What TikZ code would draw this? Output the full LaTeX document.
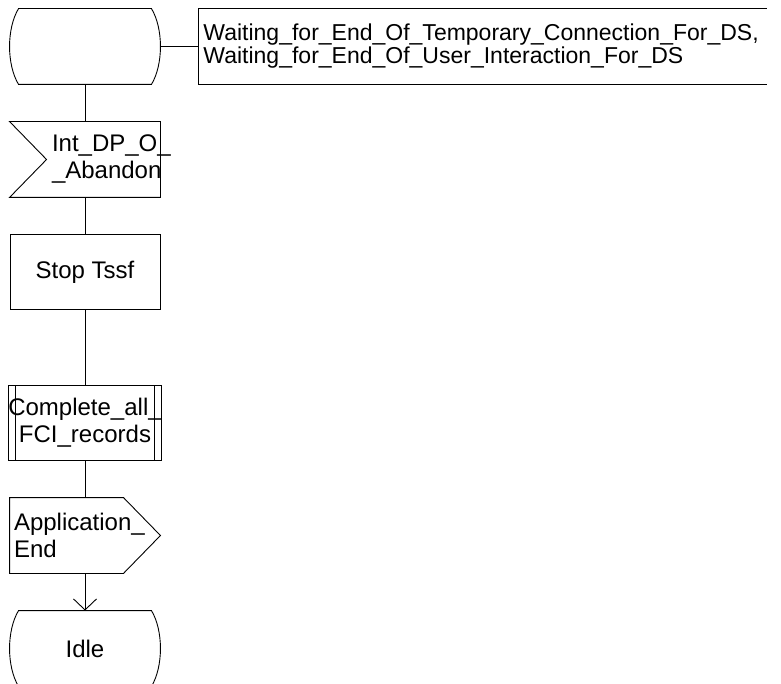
\documentclass[tikz,border=0pt]{standalone}
\usepackage{fontspec}
\setmainfont{Liberation Sans}
\usetikzlibrary{arrows.meta,calc,positioning}
\tikzset{
  every picture/.style={line width=0.9pt, line join=miter,
    >={Straight Barb[length=11pt,width=23pt]}},
  % Symbole
  blk/.style={minimum width=150pt, minimum height=75pt, inner sep=0pt,
    font=\fontsize{24}{27}\selectfont, align=center},
  task/.style={blk, draw},
  proc/.style={task, path picture={
    \draw ($(path picture bounding box.north west)+(7,0)$) -- ($(path picture bounding box.south west)+(7,0)$)
      ($(path picture bounding box.north east)+(-7,0)$) -- ($(path picture bounding box.south east)+(-7,0)$);}},
  % Beschriftung
  txt/.style={inner sep=0pt, font=\fontsize{24}{27}\selectfont, align=left},
  cmt/.style={minimum height=75pt, text width=558pt, inner xsep=5pt, inner ysep=0pt,
    align=left, font=\fontsize{23}{23}\selectfont},
}
% Umrisse der SDL-Symbole
\newcommand{\sdlstate}[1]{\draw ($(#1.north west)+(9,0)$) -- ($(#1.north east)+(-9,0)$)
  .. controls ($(#1.north east)+(3,20)$) and ($(#1.south east)+(3,-20)$) .. ($(#1.south east)+(-9,0)$)
  -- ($(#1.south west)+(9,0)$)
  .. controls ($(#1.south west)+(-3,-20)$) and ($(#1.north west)+(-3,20)$) .. cycle;}
\newcommand{\sdlinput}[1]{\draw (#1.north west) -- (#1.north east) -- (#1.south east)
  -- (#1.south west) -- ($(#1.west)+(37,0)$) -- cycle;}
\newcommand{\sdloutput}[1]{\draw (#1.north west) -- ($(#1.north east)+(-37,0)$) -- (#1.east)
  -- ($(#1.south east)+(-37,0)$) -- (#1.south west) -- cycle;}

\begin{document}
\begin{tikzpicture}[x=1pt, y=-1pt]
  \useasboundingbox (0,0) rectangle (781,684);
  % ---------- Symbole ----------
  \node[blk] (wait) at (85,46.5) {};
  \node[blk] (abandon) at (85,159.5) {};
  \node[task] (stop) at (85,272) {Stop Tssf};
  \node[proc] (fci) at (85,422.5) {Complete\_all\_\\FCI\_records};
  \node[blk] (appEnd) at (85,535.5) {};
  \node[blk] (idle) at (85,648.5) {Idle};
  \sdlstate{wait}
  \sdlinput{abandon}
  \sdloutput{appEnd}
  \sdlstate{idle}
  \node[txt, anchor=west] (abandonTxt) at ($(abandon.west)+(42,0)$) {Int\_DP\_O\_\\\_Abandon};
  \node[txt, anchor=west] (appTxt) at ($(appEnd.west)+(4,0)$) {Application\_\\End};
  % ---------- Kommentar ----------
  \node[cmt, anchor=west] (cmtWait) at (198,46.5)
    {Waiting\_for\_End\_Of\_Temporary\_Connection\_For\_DS,\\Waiting\_for\_End\_Of\_User\_Interaction\_For\_DS};
  \draw (cmtWait.north east) -- (cmtWait.north west) -- (cmtWait.south west) -- (cmtWait.south east);
  \draw (wait.east) -- (cmtWait.west);
  % ---------- Ablauf ----------
  \draw (wait) -- (abandon);
  \draw (abandon) -- (stop);
  \draw (stop) -- (fci);
  \draw (fci) -- (appEnd);
  \draw[->] (appEnd) -- (idle);
\end{tikzpicture}
\end{document}
